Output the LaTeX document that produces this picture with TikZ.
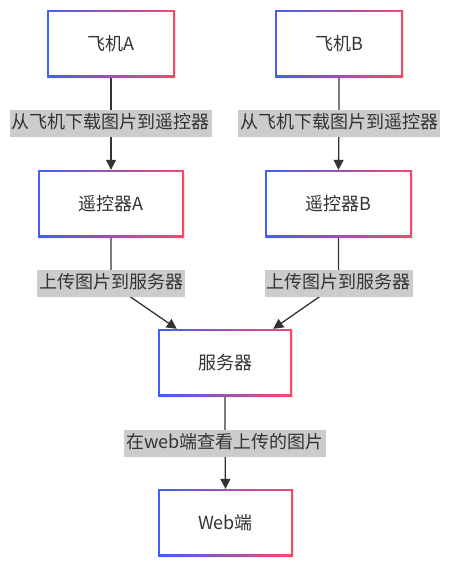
\documentclass[tikz,border=0pt]{standalone}
\usepackage{fontspec}
\setmainfont{Noto Sans CJK SC}
\usetikzlibrary{arrows.meta,backgrounds,shadows}
\definecolor{gblue}{HTML}{3F5EFB}
\definecolor{gpink}{HTML}{FC466B}
\definecolor{txt}{HTML}{333333}
\definecolor{lblfill}{HTML}{CCCCCC}
\tikzset{
  box/.style={rectangle, minimum height=67pt, inner sep=0pt, left color=gblue, right color=gpink,
    font=\fontsize{18pt}{20pt}\selectfont, text=txt,
    drop shadow={opacity=0.12, shadow xshift=1pt, shadow yshift=-1.5pt},
    path picture={\fill[white] ([shift={(1.6pt,-1.6pt)}]path picture bounding box.north west) rectangle ([shift={(-1.6pt,1.6pt)}]path picture bounding box.south east);}},
  lbl/.style={rectangle, fill=lblfill, text=txt, inner xsep=2pt, inner ysep=4.5pt,
    text height=14pt, text depth=4pt, font=\fontsize{18pt}{20pt}\selectfont},
  conn/.style={draw=txt, line width=1.3pt, -{Triangle[length=10pt,width=10pt]}}
}
\begin{document}
\begin{tikzpicture}[x=1pt,y=-1pt]
\useasboundingbox (0,0) rectangle (451,568);
\node[box, minimum width=128pt] (pA) at (111,43.5) {飞机A};
\node[box, minimum width=128pt] (pB) at (339,43.5) {飞机B};
\node[box, minimum width=146pt] (rA) at (111,203.5) {遥控器A};
\node[box, minimum width=147pt] (rB) at (338.5,203.5) {遥控器B};
\node[box, minimum width=134pt] (srv) at (225,362.5) {服务器};
\node[box, minimum width=135pt] (web) at (225.5,522.5) {Web端};
\node[lbl] (l1) at (111,123.5) {从飞机下载图片到遥控器};
\node[lbl] (l2) at (339,123.5) {从飞机下载图片到遥控器};
\node[lbl] (l3) at (111,283.5) {上传图片到服务器};
\node[lbl] (l4) at (338.5,283.5) {上传图片到服务器};
\node[lbl] (l5) at (225,443) {在web端查看上传的图片};
\begin{pgfonlayer}{background}
\draw[conn] (pA.south) -- (l1.center) -- (rA.north);
\draw[conn] (pB.south) -- (l2.center) -- (rB.north);
\draw[conn] (rA.south) -- (l3.center) -- ([xshift=19pt]srv.north west);
\draw[conn] (rB.south) -- (l4.center) -- ([xshift=-19pt]srv.north east);
\draw[conn] (srv.south) -- (l5.center) -- (web.north);
\end{pgfonlayer}
\end{tikzpicture}
\end{document}
